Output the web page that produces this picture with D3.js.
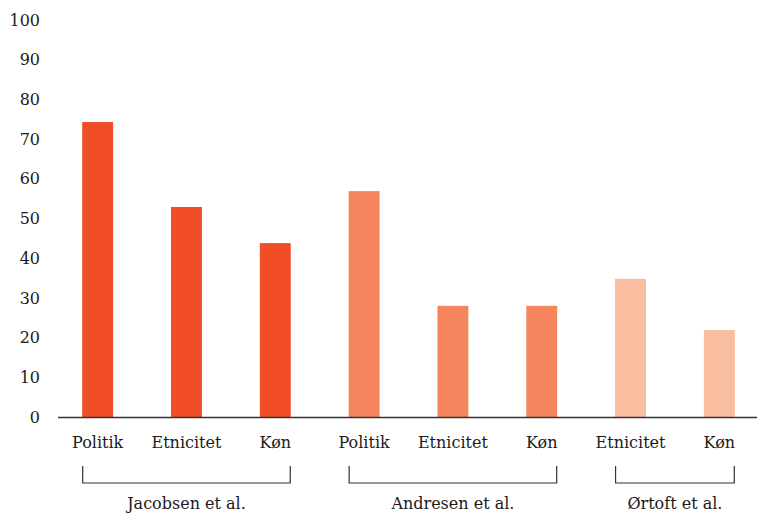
<!DOCTYPE html>
<html>
<head>
<meta charset="utf-8">
<script src="https://cdn.jsdelivr.net/npm/d3@7"></script>
<style>
  body { margin: 0; background: #fff; }
  text { font-family: "DejaVu Serif", serif; fill: #1a1a1a; }
</style>
</head>
<body>
<div id="chart"></div>
<script>
// chart data
var categories = ["Politik", "Etnicitet", "Køn", "Politik", "Etnicitet", "Køn", "Etnicitet", "Køn"];
var values = [74.3, 52.9, 43.8, 56.9, 28, 28, 34.8, 21.9];
var groupOf = [0, 0, 0, 1, 1, 1, 2, 2];
var groups = ["Jacobsen et al.", "Andresen et al.", "Ørtoft et al."];
var groupColors = ["#f14e27", "#f4855c", "#f9bea0"];
var yTicks = [0, 10, 20, 30, 40, 50, 60, 70, 80, 90, 100];

var svgWidth = 757;
var svgHeight = 513;

var margin = { top: 20, bottom: 96, right: 0, left: 60 };
var chartWidth = svgWidth - margin.left - margin.right;
var chartHeight = svgHeight - margin.top - margin.bottom;

var svg = d3.select("#chart")
    .append("svg")
    .attr("width", svgWidth)
    .attr("height", svgHeight);

var chartGroup = svg.append("g")
    .attr("transform", `translate(${margin.left}, ${margin.top})`);

var idx = d3.range(values.length);

var xScale = d3.scaleBand()
    .domain(idx)
    .range([0, chartWidth])
    .paddingInner(0.652)
    .paddingOuter(0.25);

var yScale = d3.scaleLinear()
    .domain([0, 100])
    .range([chartHeight, 0]);

// y axis labels only
var yAxis = chartGroup.append("g")
    .call(d3.axisLeft(yScale).tickValues(yTicks).tickSize(0).tickPadding(20));
yAxis.select(".domain").remove();
yAxis.selectAll("text")
    .style("font-family", "DejaVu Serif")
    .style("font-size", "16px")
    .attr("fill", "#1a1a1a");

// bars
chartGroup.selectAll("rect.bar")
    .data(idx)
    .enter()
    .append("rect")
    .attr("class", "bar")
    .attr("x", i => xScale(i))
    .attr("y", i => yScale(values[i]))
    .attr("width", xScale.bandwidth())
    .attr("height", i => chartHeight - yScale(values[i]))
    .attr("fill", i => groupColors[groupOf[i]]);

// baseline
chartGroup.append("line")
    .attr("x1", -2)
    .attr("x2", chartWidth)
    .attr("y1", chartHeight + 0.5)
    .attr("y2", chartHeight + 0.5)
    .attr("stroke", "#333")
    .attr("stroke-width", 1.3);

// category labels
chartGroup.selectAll("text.cat")
    .data(idx)
    .enter()
    .append("text")
    .attr("class", "cat")
    .attr("x", i => xScale(i) + xScale.bandwidth() / 2)
    .attr("y", chartHeight + 31)
    .attr("text-anchor", "middle")
    .style("font-size", "16px")
    .text(i => categories[i]);

// group brackets
groups.forEach(function(g, gi){
    var members = idx.filter(i => groupOf[i] === gi);
    var x0 = xScale(members[0]) + 0.5;
    var x1 = xScale(members[members.length - 1]) + xScale.bandwidth() - 0.5;
    var yTop = chartHeight + 49;
    var yBot = chartHeight + 66;

    chartGroup.append("path")
        .attr("d", `M${x0},${yTop}V${yBot}H${x1}V${yTop}`)
        .attr("fill", "none")
        .attr("stroke", "#333")
        .attr("stroke-width", 1.2);

    chartGroup.append("text")
        .attr("x", (x0 + x1) / 2)
        .attr("y", chartHeight + 92)
        .attr("text-anchor", "middle")
        .style("font-size", "16px")
        .text(g);
});
</script>
</body>
</html>
